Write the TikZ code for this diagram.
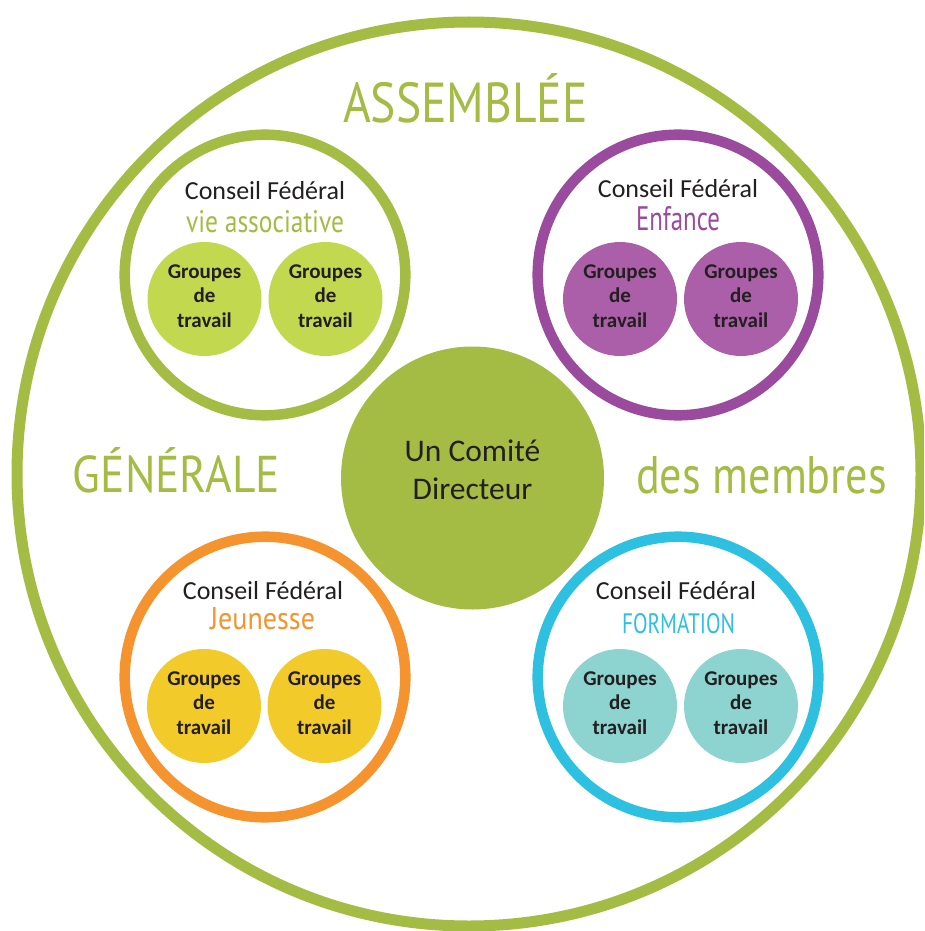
\documentclass[tikz,border=0pt]{standalone}
\usepackage{fontspec}
\setmainfont{Carlito}
\newfontfamily\deco{PT Sans}
\usepackage{graphicx}
\definecolor{agreen}{HTML}{A4BC43}
\definecolor{lgreen}{HTML}{C2D84F}
\definecolor{apurple}{HTML}{9A4B9E}
\definecolor{lpurple}{HTML}{AB5FA9}
\definecolor{aorange}{HTML}{F5932E}
\definecolor{ayellow}{HTML}{F2CB2B}
\definecolor{acyan}{HTML}{2DC0E0}
\definecolor{lteal}{HTML}{8DD3D0}
\definecolor{ink}{HTML}{231F20}
\tikzset{
  bigring/.style={circle, draw=agreen, line width=11pt, minimum size=904pt, inner sep=0pt},
  ring/.style={circle, draw=#1, line width=10.5pt, minimum size=280.6pt, inner sep=0pt},
  gt/.style={circle, fill=#1, minimum size=114pt, inner sep=0pt},
  gtext/.style={text=ink, font=\bfseries\fontsize{21}{24.5}\selectfont, align=center, inner sep=0pt},
  cf/.style={text=ink, font=\fontsize{26}{30}\selectfont, anchor=base, inner sep=0pt},
  decot/.style={text=#1, anchor=base, inner sep=0pt},
  comite/.style={circle, fill=agreen, minimum size=263pt, inner sep=0pt},
}
\begin{document}
\begin{tikzpicture}[x=1pt,y=-1pt]
\clip (0,0) rectangle (924,931);
\fill[white] (0,0) rectangle (924,931);
% big circle
\node[bigring] (big) at (469,474) {};
% titles
\node[decot=agreen] (assemblee) at (465.5,122) {\resizebox{245pt}{49pt}{\deco ASSEMBLÉE}};
\node[decot=agreen] (generale) at (176.5,492) {\resizebox{207pt}{45pt}{\deco GÉNÉRALE}};
\node[decot=agreen] (membres) at (761.5,493) {\resizebox{251pt}{37pt}{\deco des membres}};
% centre
\node[comite] (cd) at (472.5,478) {};
\node[text=ink, font=\fontsize{31.5}{37.7}\selectfont, align=center, inner sep=0pt] (cdtext) at (472.5,470) {Un Comité\\Directeur};
% council vie associative
\node[ring=agreen] (cva) at (265,275) {};
\node[cf] (cvat) at (265,199) {Conseil Fédéral};
\node[decot=agreen] (cvas) at (265,232) {\resizebox{158pt}{22pt}{\deco vie associative}};
\node[gt=lgreen] (va1) at (204.5,299) {};
\node[gt=lgreen] (va2) at (325.5,299) {};
\node[gtext] at (204.5,296) {Groupes\\de\\travail};
\node[gtext] at (325.5,296) {Groupes\\de\\travail};
% council enfance
\node[ring=apurple] (cen) at (678,275) {};
\node[cf] (cent) at (678,197) {Conseil Fédéral};
\node[decot=apurple] (cens) at (678,230) {\resizebox{84pt}{24pt}{\deco Enfance}};
\node[gt=lpurple] (en1) at (620,299) {};
\node[gt=lpurple] (en2) at (741,299) {};
\node[gtext] at (620,296) {Groupes\\de\\travail};
\node[gtext] at (741,296) {Groupes\\de\\travail};
% council jeunesse
\node[ring=aorange] (cje) at (265,677) {};
\node[cf] (cjet) at (263,599) {Conseil Fédéral};
\node[decot=aorange] (cjes) at (262.5,629) {\resizebox{105pt}{22pt}{\deco Jeunesse}};
\node[gt=ayellow] (je1) at (204,706) {};
\node[gt=ayellow] (je2) at (324.5,706) {};
\node[gtext] at (204,703) {Groupes\\de\\travail};
\node[gtext] at (324.5,703) {Groupes\\de\\travail};
% council formation
\node[ring=acyan] (cfo) at (678,677) {};
\node[cf] (cfot) at (676,599) {Conseil Fédéral};
\node[decot=acyan] (cfos) at (678.5,633) {\resizebox{113pt}{20pt}{\deco FORMATION}};
\node[gt=lteal] (fo1) at (620,706) {};
\node[gt=lteal] (fo2) at (741,706) {};
\node[gtext] at (620,703) {Groupes\\de\\travail};
\node[gtext] at (741,703) {Groupes\\de\\travail};
\end{tikzpicture}
\end{document}
